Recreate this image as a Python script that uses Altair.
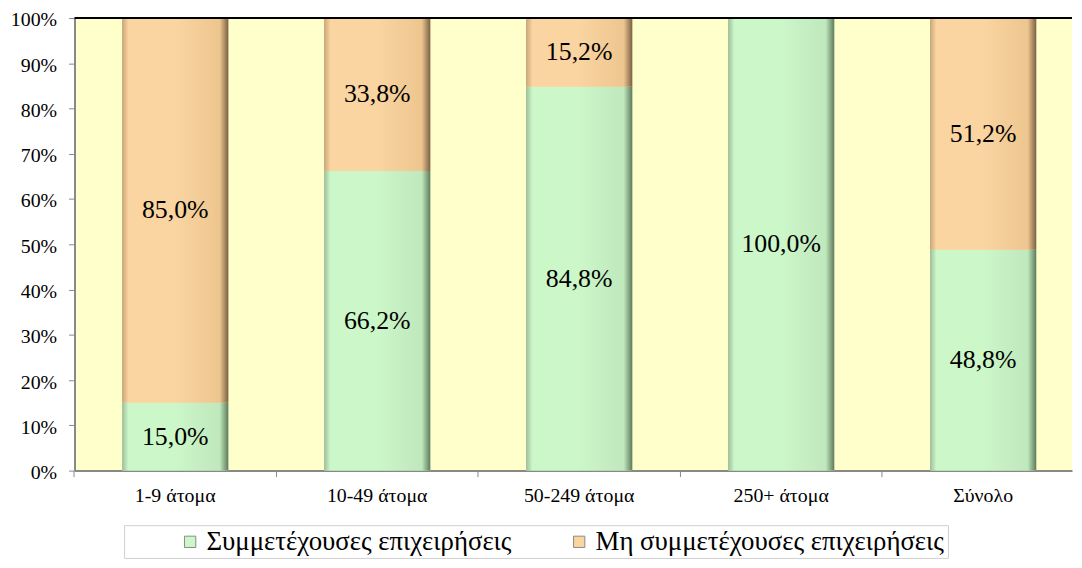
import altair as alt
import pandas as pd

categories = ["1-9 άτομα", "10-49 άτομα", "50-249 άτομα", "250+ άτομα", "Σύνολο"]
participating = [15.0, 66.2, 84.8, 100.0, 48.8]
non_participating = [85.0, 33.8, 15.2, 0.0, 51.2]
series = ["Συμμετέχουσες επιχειρήσεις", "Μη συμμετέχουσες επιχειρήσεις"]
colors = ["#CCF7C9", "#FAD5A1"]

rows = []
for i, c in enumerate(categories):
    rows.append({"cat": c, "series": series[0], "value": participating[i], "ord": 0})
    rows.append({"cat": c, "series": series[1], "value": non_participating[i], "ord": 1})
df = pd.DataFrame(rows)

FONT = "'Liberation Serif', 'Times New Roman', serif"

x_axis = alt.Axis(labelAngle=0, labelFont=FONT, labelFontSize=20, labelColor="#000",
                  domainColor="#888", domainWidth=2, tickColor="#888", tickSize=6,
                  bandPosition=-0.449, labelPadding=9, title=None)
y_axis = alt.Axis(values=list(range(0, 101, 10)), labelExpr="datum.value + '%'",
                  labelFont=FONT, labelFontSize=20, labelColor="#000", grid=False,
                  domainColor="#888", domainWidth=2, tickColor="#888", tickSize=6,
                  labelPadding=12, labelOffset=2, title=None)
x_scale = alt.Scale(paddingInner=0.474, paddingOuter=0.2063, align=0.571)
y_scale = alt.Scale(domain=[0, 100])


def grad(edge_l, mid, mid2, edge_r):
    return alt.Gradient(
        gradient="linear", x1=0, x2=1, y1=0, y2=0,
        stops=[alt.GradientStop(color=edge_l, offset=0),
               alt.GradientStop(color=mid, offset=0.06),
               alt.GradientStop(color=mid, offset=0.5),
               alt.GradientStop(color=mid2, offset=0.92),
               alt.GradientStop(color=edge_r, offset=1)])


grads = [grad("#9DBE9A", "#CCF7C9", "#BFE8BC", "#5E7A5C"),
         grad("#C9A679", "#FAD5A1", "#EDC58F", "#7A6044")]

base = alt.Chart(df).transform_filter("datum.value > 0").transform_stack(
    stack="value", as_=["y0", "y1"], groupby=["cat"], sort=[alt.SortField("ord")]
)

X = alt.X("cat:N", sort=categories, title=None, scale=x_scale, axis=x_axis)

bars = base.mark_bar().encode(
    x=X,
    y=alt.Y("y0:Q", scale=y_scale, title=None, axis=y_axis),
    y2="y1:Q",
    color=alt.Color("series:N", sort=series,
                    scale=alt.Scale(domain=series, range=colors),
                    legend=alt.Legend(title=None, orient="none", direction="horizontal",
                                      legendX=50, legendY=511,
                                      labelFont=FONT, labelFontSize=27, labelColor="#000",
                                      symbolType="square", symbolSize=130, symbolStrokeWidth=1,
                                      symbolStrokeColor="#8a8a8a", symbolOffset=50,
                                      labelOffset=3,
                                      strokeColor="#d0d0d0", padding=3, columnPadding=4,
                                      labelLimit=500)),
)

grad_layers = []
for s, g in zip(series, grads):
    grad_layers.append(
        base.transform_filter(alt.datum.series == s).mark_bar(color=g).encode(
            x=X,
            y=alt.Y("y0:Q", scale=y_scale, title=None, axis=y_axis),
            y2="y1:Q",
        )
    )

labels = base.transform_calculate(
    mid="(datum.y0 + datum.y1) / 2",
    lab="replace(format(datum.value, '.1f'), '.', ',') + '%'"
).mark_text(font=FONT, fontSize=26, color="#000").encode(
    x=X,
    y=alt.Y("mid:Q", scale=y_scale, title=None, axis=y_axis),
    text="lab:N",
)

top = alt.Chart(pd.DataFrame({"v": [100]})).mark_rule(color="#000", strokeWidth=2).encode(
    y=alt.Y("v:Q", scale=y_scale, title=None, axis=y_axis)
)

chart = alt.layer(bars, *grad_layers, labels, top).properties(
    width=1005, height=456,
    padding={"left": 67, "top": 8, "right": 2, "bottom": 88},
    autosize=alt.AutoSizeParams(type="none"),
).configure(background="#FFFFFF").configure_view(fill="#FFFFCC", stroke=None)

chart.save("out.html", embed_options={"renderer": "svg", "actions": False})
